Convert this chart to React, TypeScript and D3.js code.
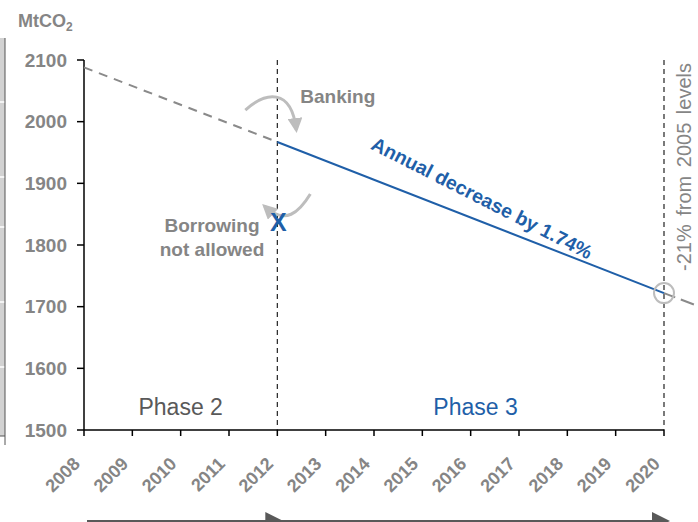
import * as d3 from 'd3';

const years = [2008, 2009, 2010, 2011, 2012, 2013, 2014, 2015, 2016, 2017, 2018, 2019, 2020];
const yTicks = [1500, 1600, 1700, 1800, 1900, 2000, 2100];

// cap trajectory
const phase2Years = [2008, 2012];
const phase2Values = [2088, 1967];
const phase3Years = [2012, 2020];
const phase3Values = [1967, 1722];
const extYears = [2020, 2020.7];
const extValues = [1722, 1701];

const phaseLabels = ['Phase 2', 'Phase 3'];
const phaseMid = [2010, 2016.1];
const phaseRanges = [[2008, 2012], [2012, 2020]];

const BLUE = '#1f5fa8';
const GREY = '#858585';
const LIGHT = '#bdbdbd';
const FONT = 'Arial, "Liberation Sans", sans-serif';

const W = 698;
const H = 522;
const margin = { left: 84, right: 34, top: 60, bottom: 92 };

const App = () => {
  const x = d3.scaleLinear()
    .domain([2008, 2020])
    .range([margin.left, W - margin.right]);
  const y = d3.scaleLinear()
    .domain([1500, 2100])
    .range([H - margin.bottom, margin.top]);

  const line = d3.line<[number, number]>()
    .x(d => x(d[0]))
    .y(d => y(d[1]));

  const zip = (a: number[], b: number[]) => a.map((v, i) => [v, b[i]] as [number, number]);

  const y0 = y(1500);
  const yTop = y(2100);
  const endX = x(2020);
  const endY = y(phase3Values[1]);
  const x12 = x(2012);
  const y12 = y(phase2Values[1]);

  return (
    <svg width={W} height={H} style={{ position: 'absolute', left: 0, top: 0, display: 'block' }}
      fontFamily={FONT}>
      <defs>
        <marker id="arrGrey" viewBox="0 0 10 10" refX="8" refY="5" markerWidth="5" markerHeight="5" orient="auto">
          <path d="M0,0 L10,5 L0,10 z" fill={LIGHT} />
        </marker>
      </defs>

      {/* cropped edge of neighbouring chart */}
      <rect x={0} y={38} width={5} height={398} fill="#d2d2d2" />
      {[102, 177, 227, 302, 367].map(v => (
        <line key={v} x1={0} x2={5} y1={v} y2={v} stroke="#fff" strokeWidth={1.5} />
      ))}
      <line x1={5} x2={5} y1={38} y2={445} stroke="#555" strokeWidth={1} />
      <line x1={0} x2={5} y1={436} y2={436} stroke="#555" strokeWidth={1} />

      {/* unit label */}
      <text x={18} y={27} fontSize={18} fontWeight="bold" fill={GREY}>
        MtCO<tspan fontSize={12} dy={4}>2</tspan>
      </text>

      {/* y axis */}
      <line x1={margin.left} x2={margin.left} y1={yTop} y2={y0} stroke="#000" strokeWidth={1.5} />
      {yTicks.map(t => (
        <g key={t}>
          <line x1={margin.left - 7} x2={margin.left} y1={y(t)} y2={y(t)} stroke="#000" strokeWidth={1.5} />
          <text x={67} y={y(t)} dy="0.35em" textAnchor="end" fontSize={19} fontWeight="bold" fill={GREY}>{t}</text>
        </g>
      ))}

      {/* x axis */}
      <line x1={margin.left} x2={endX} y1={y0} y2={y0} stroke="#000" strokeWidth={1.5} />
      {years.map(t => (
        <g key={t}>
          <line x1={x(t)} x2={x(t)} y1={y0} y2={y0 + 6} stroke="#000" strokeWidth={1.5} />
          <text transform={`translate(${x(t) - 3},${y0 + 35}) rotate(-45)`} textAnchor="end"
            fontSize={18} fontWeight="bold" fill={GREY}>{t}</text>
        </g>
      ))}

      {/* phase boundaries */}
      {[2012, 2020].map(t => (
        <line key={t} x1={x(t)} x2={x(t)} y1={yTop} y2={y0} stroke="#222" strokeWidth={1.2} strokeDasharray="5,4" />
      ))}

      {/* cap trajectory */}
      <path d={line(zip(phase2Years, phase2Values)) || ''} fill="none" stroke="#8a8a8a" strokeWidth={2} strokeDasharray="9,7" />
      <path d={line(zip(extYears, extValues)) || ''} fill="none" stroke="#8a8a8a" strokeWidth={2} strokeDasharray="12,6,14" />
      <path d={line(zip(phase3Years, phase3Values)) || ''} fill="none" stroke={BLUE} strokeWidth={2} />

      <circle cx={endX} cy={endY} r={10} fill="none" stroke={LIGHT} strokeWidth={2} />

      {/* banking arrow */}
      <path d={`M${x12 - 32},${y12 - 32} C${x12 - 12},${y12 - 50} ${x12 + 14},${y12 - 55} ${x12 + 19},${y12 - 12}`}
        fill="none" stroke={LIGHT} strokeWidth={3} markerEnd="url(#arrGrey)" />
      <text x={x12 + 23} y={103} fontSize={19} fontWeight="bold" fill={GREY}>Banking</text>

      {/* borrowing arrow */}
      <path d={`M${x12 + 33},${194} C${x12 + 22},${212} ${x12 + 8},${226} ${x12 - 13},${206}`}
        fill="none" stroke={LIGHT} strokeWidth={3} markerEnd="url(#arrGrey)" />
      <text x={x12 + 1} y={222} dy="0.35em" textAnchor="middle" fontSize={25} fontWeight="bold" fill={BLUE}>X</text>
      <text x={212} y={232} textAnchor="middle" fontSize={19} fontWeight="bold" fill={GREY}>Borrowing</text>
      <text x={212} y={256} textAnchor="middle" fontSize={19} fontWeight="bold" fill={GREY}>not allowed</text>

      {/* annotations */}
      <text transform={`translate(482,198) rotate(27)`} textAnchor="middle" dy="0.35em"
        fontSize={19.5} fontWeight="bold" fill={BLUE}>Annual decrease by 1.74%</text>
      <text transform={`translate(684,167) rotate(-90)`} textAnchor="middle" dy="0.35em"
        fontSize={20} fill={GREY} wordSpacing={3}>-21% from 2005 levels</text>

      {phaseLabels.map((p, i) => (
        <text key={p} x={x(phaseMid[i])} y={y0 - 15} textAnchor="middle" fontSize={23}
          fill={i === 0 ? '#595959' : BLUE}>{p}</text>
      ))}

      {/* phase arrows */}
      {phaseRanges.map(([a, b], i) => (
        <g key={i}>
          <line x1={x(a) + 3} x2={x(b)} y1={521} y2={521} stroke="#595959" strokeWidth={2} />
          <path d={`M${x(b) - 12},${512} L${x(b) + 6},${521} L${x(b) - 12},${530} z`} fill="#595959" />
        </g>
      ))}
    </svg>
  );
};

export default App;
